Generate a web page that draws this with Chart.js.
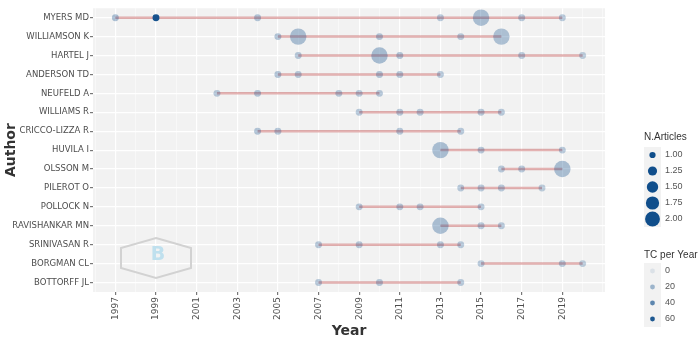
<!DOCTYPE html>
<html>
<head>
<meta charset="utf-8">
<script src="https://cdn.jsdelivr.net/npm/chart.js@4.4.1/dist/chart.umd.min.js"></script>
<style>
  html, body { margin: 0; padding: 0; background: #fff; }
  #wrap { width: 700px; height: 347px; position: relative; }
</style>
</head>
<body>
<div id="wrap"><canvas id="chart"></canvas></div>
<script>
// ---------------- Data ----------------
const authors = [
  "MYERS MD", "WILLIAMSON K", "HARTEL J", "ANDERSON TD", "NEUFELD A",
  "WILLIAMS R", "CRICCO-LIZZA R", "HUVILA I", "OLSSON M", "PILEROT O",
  "POLLOCK N", "RAVISHANKAR MN", "SRINIVASAN R", "BORGMAN CL", "BOTTORFF JL"
];

// publication years per author
const pubYears = [
  [1997, 1999, 2004, 2013, 2015, 2017, 2019],
  [2005, 2006, 2010, 2014, 2016],
  [2006, 2010, 2011, 2017, 2020],
  [2005, 2006, 2010, 2011, 2013],
  [2002, 2004, 2008, 2009, 2010],
  [2009, 2011, 2012, 2015, 2016],
  [2004, 2005, 2011, 2014],
  [2013, 2015, 2019],
  [2016, 2017, 2019],
  [2014, 2015, 2016, 2018],
  [2009, 2011, 2012, 2015],
  [2013, 2015, 2016],
  [2007, 2009, 2013, 2014],
  [2015, 2019, 2020],
  [2007, 2010, 2014]
];

// number of articles per author-year
const nArticles = [
  [1, 1, 1, 1, 2, 1, 1],
  [1, 2, 1, 1, 2],
  [1, 2, 1, 1, 1],
  [1, 1, 1, 1, 1],
  [1, 1, 1, 1, 1],
  [1, 1, 1, 1, 1],
  [1, 1, 1, 1],
  [2, 1, 1],
  [1, 1, 2],
  [1, 1, 1, 1],
  [1, 1, 1, 1],
  [2, 1, 1],
  [1, 1, 1, 1],
  [1, 1, 1],
  [1, 1, 1]
];

// total citations per year per author-year
const tcPerYear = [
  [16, 62, 14, 12, 16, 13, 12],
  [14, 16, 14, 12, 15],
  [13, 17, 14, 12, 11],
  [14, 13, 14, 13, 12],
  [13, 14, 13, 12, 13],
  [12, 13, 12, 13, 12],
  [14, 13, 13, 12],
  [16, 13, 12],
  [12, 12, 16],
  [12, 12, 12, 11],
  [13, 13, 12, 12],
  [16, 12, 12],
  [13, 13, 13, 12],
  [12, 12, 11],
  [13, 13, 12]
];

const sizeLegend = [1.00, 1.25, 1.50, 1.75, 2.00];
const tcLegend = [0, 20, 40, 60];
const yearLabels = [1997, 1999, 2001, 2003, 2005, 2007, 2009, 2011, 2013, 2015, 2017, 2019];

// ---------------- Helpers ----------------
const BLUE = [16, 78, 139];   // dodgerblue4
const TC_MAX = 64;
const alphaFor = tc => 0.1 + 0.9 * Math.min(tc, TC_MAX) / TC_MAX;
const radiusFor = n => Math.sqrt(12 + (n - 1) * (68 - 12));
const blue = a => `rgba(${BLUE[0]},${BLUE[1]},${BLUE[2]},${a})`;

// ---------------- Datasets ----------------
const datasets = [];

authors.forEach((name, i) => {
  const yrs = pubYears[i];
  datasets.push({
    type: "line",
    data: [{ x: Math.min(...yrs), y: i }, { x: Math.max(...yrs), y: i }],
    borderColor: "rgba(178,34,34,0.35)",
    borderWidth: 2.5,
    pointRadius: 0,
    order: 2
  });
});

const pts = [], radii = [], colors = [];
authors.forEach((name, i) => {
  pubYears[i].forEach((yr, j) => {
    pts.push({ x: yr, y: i });
    radii.push(radiusFor(nArticles[i][j]));
    colors.push(blue(alphaFor(tcPerYear[i][j])));
  });
});

datasets.push({
  type: "scatter",
  data: pts,
  pointRadius: radii,
  pointHoverRadius: radii,
  backgroundColor: colors,
  borderWidth: 0,
  order: 1
});

// ---------------- Plugins ----------------
const panelBg = {
  id: "panelBg",
  beforeDraw(chart) {
    const { ctx, chartArea: a } = chart;
    ctx.save();
    ctx.fillStyle = "#f2f2f2";
    ctx.fillRect(a.left, a.top, a.right - a.left, a.bottom - a.top);
    ctx.restore();
  }
};

const extras = {
  id: "extras",
  afterDraw(chart) {
    const { ctx, chartArea: a } = chart;
    ctx.save();

    // watermark
    const cx = 156, cy = 258, hw = 35, hh = 20;
    ctx.strokeStyle = "#d2d2d2";
    ctx.lineWidth = 2;
    ctx.beginPath();
    ctx.moveTo(cx, cy - hh);
    ctx.lineTo(cx + hw, cy - hh / 2);
    ctx.lineTo(cx + hw, cy + hh / 2);
    ctx.lineTo(cx, cy + hh);
    ctx.lineTo(cx - hw, cy + hh / 2);
    ctx.lineTo(cx - hw, cy - hh / 2);
    ctx.closePath();
    ctx.stroke();
    ctx.fillStyle = "#bfe0ee";
    ctx.font = "bold 19px 'DejaVu Sans'";
    ctx.textAlign = "center";
    ctx.textBaseline = "middle";
    ctx.fillText("B", cx + 2, cy - 3);

    // axis titles
    ctx.fillStyle = "#333";
    ctx.font = "bold 14px 'DejaVu Sans'";
    ctx.fillText("Year", (a.left + a.right) / 2, 331);
    ctx.save();
    ctx.translate(11, (a.top + a.bottom) / 2);
    ctx.rotate(-Math.PI / 2);
    ctx.fillText("Author", 0, 0);
    ctx.restore();

    // legend: N.Articles
    ctx.textAlign = "left";
    ctx.font = "10px 'Liberation Sans'";
    ctx.fillStyle = "#333";
    ctx.fillText("N.Articles", 644, 137);
    ctx.font = "9px 'Liberation Sans'";
    sizeLegend.forEach((v, k) => {
      const y = 155 + k * 16;
      ctx.fillStyle = "#f2f2f2";
      ctx.fillRect(644, y - 8, 17, 16);
      ctx.fillStyle = blue(1);
      ctx.beginPath();
      ctx.arc(652.5, y, radiusFor(v) * 0.9, 0, Math.PI * 2);
      ctx.fill();
      ctx.fillStyle = "#555";
      ctx.fillText(v.toFixed(2), 665, y);
    });

    // legend: TC per Year
    ctx.font = "10px 'Liberation Sans'";
    ctx.fillStyle = "#333";
    ctx.fillText("TC per Year", 644, 255);
    ctx.font = "9px 'Liberation Sans'";
    tcLegend.forEach((v, k) => {
      const y = 271 + k * 16;
      ctx.fillStyle = "#f2f2f2";
      ctx.fillRect(644, y - 8, 17, 16);
      ctx.fillStyle = blue(alphaFor(v));
      ctx.beginPath();
      ctx.arc(652.5, y, 2.4, 0, Math.PI * 2);
      ctx.fill();
      ctx.fillStyle = "#555";
      ctx.fillText(String(v), 665, y);
    });

    ctx.restore();
  }
};

// ---------------- Chart ----------------
const gridYears = [];
for (let y = 1996; y <= 2021; y++) gridYears.push(y);
const isMajor = v => yearLabels.includes(v);

new Chart(document.getElementById("chart"), {
  data: { datasets },
  options: {
    responsive: true,
    maintainAspectRatio: false,
    animation: false,
    layout: { padding: { top: 3, right: 95, left: 0, bottom: 0 } },
    plugins: { legend: { display: false }, tooltip: { enabled: false } },
    scales: {
      x: {
        type: "linear",
        min: 1995.9,
        max: 2021.1,
        afterBuildTicks: s => { s.ticks = gridYears.map(v => ({ value: v })); },
        afterFit: s => { s.height = 55; },
        border: { display: false },
        grid: {
          color: "#ffffff",
          lineWidth: c => (c.tick && isMajor(c.tick.value) ? 1.2 : 0.5),
          tickColor: c => (c.tick && isMajor(c.tick.value) ? "#777" : "rgba(0,0,0,0)"),
          tickLength: 3
        },
        ticks: {
          autoSkip: false,
          minRotation: 90,
          maxRotation: 90,
          padding: 2,
          color: "#4d4d4d",
          font: { family: "'DejaVu Sans'", size: 9 },
          callback: v => (isMajor(v) ? String(v) : "")
        }
      },
      y: {
        type: "linear",
        min: -0.5,
        max: 14.5,
        reverse: true,
        afterBuildTicks: s => { s.ticks = authors.map((a, i) => ({ value: i })); },
        afterFit: s => { s.width = 93; },
        border: { display: false },
        grid: { color: "#ffffff", lineWidth: 1.2, tickColor: "#777", tickLength: 3 },
        ticks: {
          autoSkip: false,
          padding: 1,
          color: "#4d4d4d",
          font: { family: "'DejaVu Sans'", size: 8.5 },
          callback: v => authors[v]
        }
      }
    }
  },
  plugins: [panelBg, extras]
});
</script>
</body>
</html>
